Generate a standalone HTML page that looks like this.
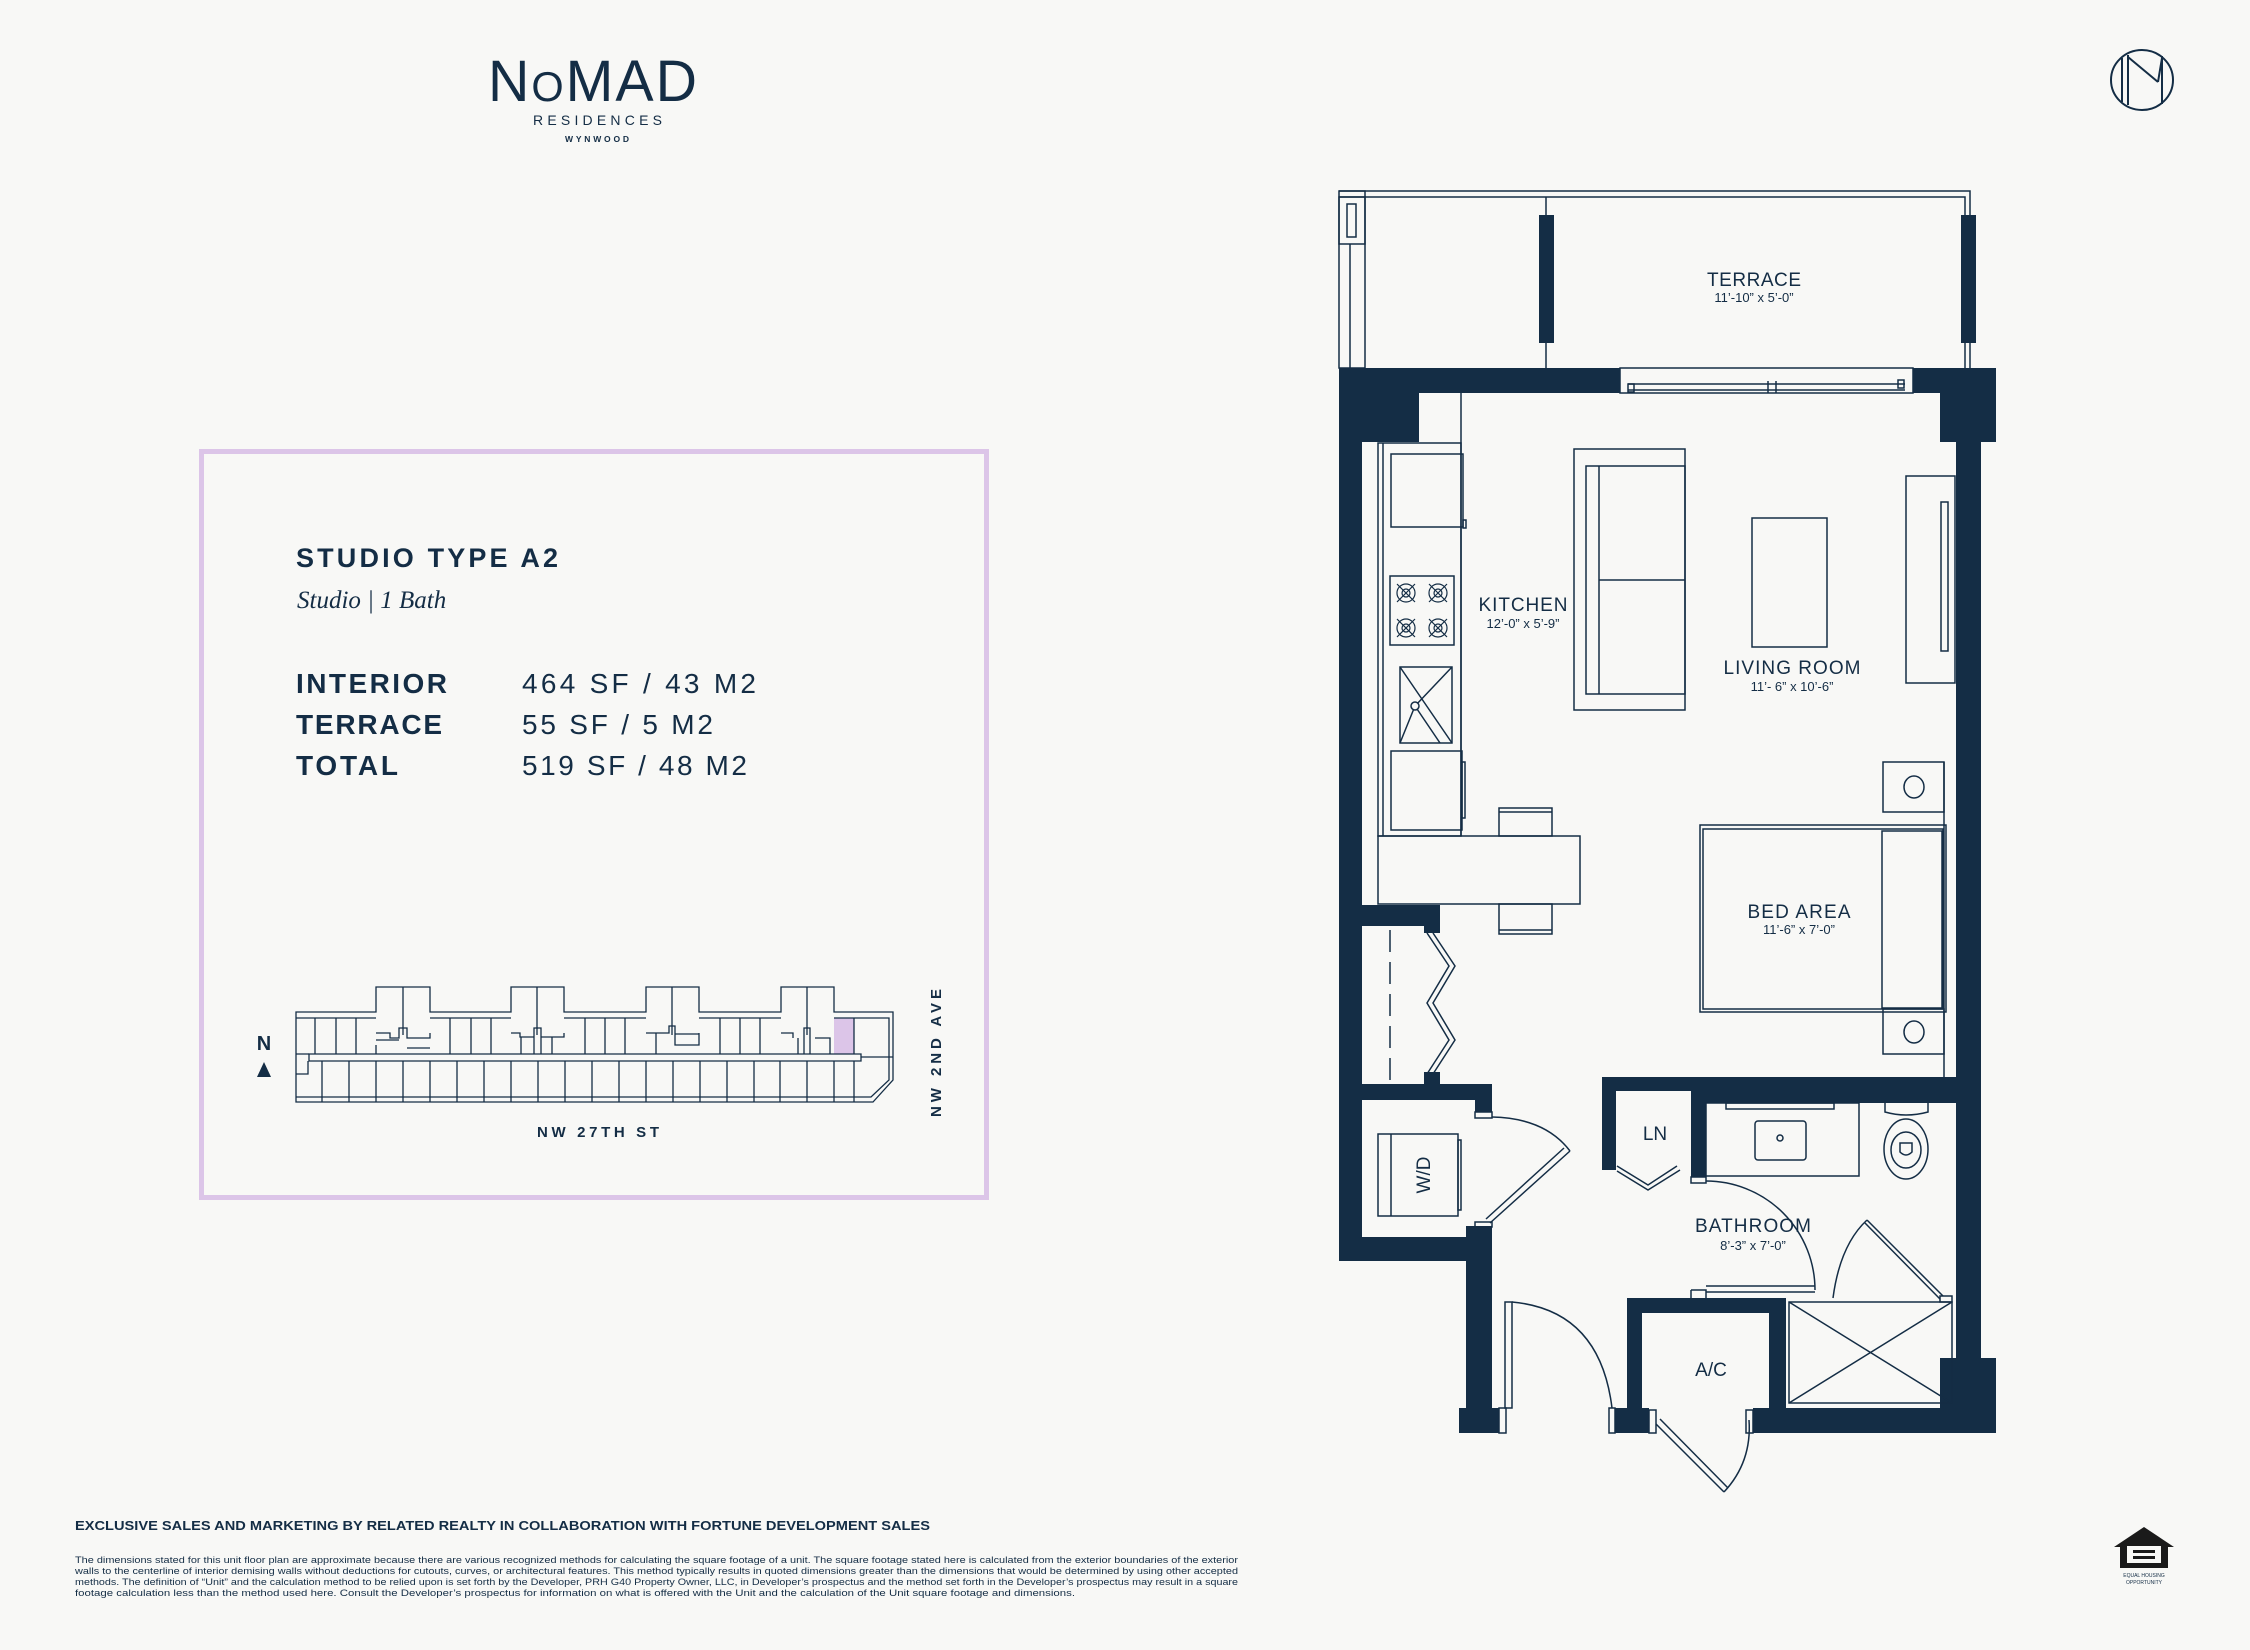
<!DOCTYPE html>
<html><head><meta charset="utf-8"><style>
html,body{margin:0;padding:0;background:#f8f8f6;}
svg{display:block;}
text{font-family:"Liberation Sans",sans-serif;fill:#142d45;}
</style></head><body>
<svg width="2250" height="1650" viewBox="0 0 2250 1650" xmlns="http://www.w3.org/2000/svg">
<rect width="2250" height="1650" fill="#f8f8f6"/>

<!-- Logo -->
<text x="488" y="101" font-size="58" textLength="211" lengthAdjust="spacingAndGlyphs" style="letter-spacing:2px">N<tspan font-size="42">O</tspan>MAD</text>
<text x="533" y="125" font-size="14" textLength="129" lengthAdjust="spacing">RESIDENCES</text>
<text x="565" y="142" font-size="8.5" font-weight="bold" textLength="64" lengthAdjust="spacing">WYNWOOD</text>

<!-- top right M logo -->
<g stroke="#142d45" stroke-width="2" fill="none">
<ellipse cx="2142" cy="80" rx="31" ry="30"/>
<line x1="2122" y1="58" x2="2122" y2="102"/><line x1="2128" y1="55" x2="2128" y2="105"/>
<line x1="2128" y1="57" x2="2158" y2="82"/><line x1="2158" y1="82" x2="2162" y2="58"/>
<line x1="2162" y1="56" x2="2162" y2="104"/>
</g>

<!-- Left info box -->
<rect x="201.5" y="451.5" width="785" height="746" fill="none" stroke="#dcc5e8" stroke-width="5"/>
<text x="296" y="567" font-size="27" font-weight="bold" textLength="262" lengthAdjust="spacing">STUDIO TYPE A2</text>
<text x="297" y="608" font-size="25" font-style="italic" style="font-family:'Liberation Serif',serif">Studio | 1 Bath</text>
<g font-size="28">
<text x="296" y="693" font-weight="bold" textLength="151" lengthAdjust="spacing">INTERIOR</text>
<text x="296" y="734" font-weight="bold" textLength="146" lengthAdjust="spacing">TERRACE</text>
<text x="296" y="775" font-weight="bold" textLength="102" lengthAdjust="spacing">TOTAL</text>
<text x="522" y="693" textLength="234" lengthAdjust="spacing">464 SF / 43 M2</text>
<text x="522" y="734" textLength="191" lengthAdjust="spacing">55 SF / 5 M2</text>
<text x="522" y="775" textLength="225" lengthAdjust="spacing">519 SF / 48 M2</text>
</g>

<!-- site plan -->
<rect x="834" y="1018" width="20" height="36" fill="#dcc5e8"/>
<g stroke="#142d45" stroke-width="1.3" fill="none">
<path d="M296 1012 H376 V987 H430 V1012 H511 V987 H564 V1012 H646 V987 H699 V1012 H781 V987 H834 V1012 H893 V1080 L873 1102 H296 Z"/>
<path d="M296 1018 H376 M430 1018 H511 M564 1018 H646 M699 1018 H781 M834 1018 H889 V1080 L871 1097 H296"/>
<path d="M309 1054 H861 V1061 H309 Z"/>
<path d="M296 1054 H309 M296 1074 H308 V1061"/>
<path d="M403 987 V1035 M537 987 V1035 M672 987 V1035 M807 987 V1035"/>
<path d="M376 1033 H390 V1038 H399 V1028 H407 V1038 H430 V1033 M376 1045 V1054 M376 1040 H399 M407 1048 H430"/>
<path d="M511 1033 H520 V1037 H534 V1028 H541 V1054 M534 1037 V1054 M541 1037 H564 V1033 M521 1037 V1054 M552 1037 V1054"/>
<path d="M646 1033 H669 V1026 H675 V1045 H699 V1033 M675 1034 H699 M656 1033 V1054"/>
<path d="M781 1033 H793 V1038 M804 1038 V1028 H810 V1054 M804 1038 V1054 M798 1038 V1054 M822 1038 H830 V1054 M815 1038 H822"/>
<path d="M854 1018 V1054 M861 1057 H893"/>
<path d="M315 1018 V1054 M336 1018 V1054 M356 1018 V1054 M450 1018 V1054 M471 1018 V1054 M491 1018 V1054 M585 1018 V1054 M605 1018 V1054 M625 1018 V1054 M720 1018 V1054 M740 1018 V1054 M760 1018 V1054"/>
<path d="M322 1061 V1102 M349 1061 V1102 M376 1061 V1102 M403 1061 V1102 M430 1061 V1102 M457 1061 V1102 M484 1061 V1102 M511 1061 V1102 M538 1061 V1102 M565 1061 V1102 M592 1061 V1102 M619 1061 V1102 M646 1061 V1102 M673 1061 V1102 M700 1061 V1102 M727 1061 V1102 M754 1061 V1102 M780 1061 V1102 M807 1061 V1102 M834 1061 V1102 M854 1061 V1102"/>
</g>
<text x="264" y="1050" font-size="20" font-weight="bold" text-anchor="middle">N</text>
<path d="M264 1062 L271 1077 H257 Z" fill="#142d45"/>
<text x="598" y="1137" font-size="15" font-weight="bold" text-anchor="middle" textLength="122" lengthAdjust="spacing">NW 27TH ST</text>
<text transform="translate(941,1053) rotate(-90)" font-size="15" font-weight="bold" text-anchor="middle" textLength="128" lengthAdjust="spacing">NW 2ND AVE</text>

<!-- ===== FLOOR PLAN ===== -->
<g stroke="#142d45" stroke-width="1.5" fill="none">
<path d="M1339 191 H1970 V368 M1339 197 H1965 V368"/>
<rect x="1339" y="191" width="26" height="177"/>
<rect x="1339" y="197" width="26" height="47"/>
<rect x="1347" y="204" width="9" height="33"/>
<line x1="1350" y1="244" x2="1350" y2="368"/>
<line x1="1546" y1="197" x2="1546" y2="368"/>
<rect x="1620" y="368" width="293" height="25"/>
<path d="M1628 384 H1905 M1628 390 H1905 M1768 381 V393 M1776 381 V393"/>
<rect x="1628" y="384" width="6" height="8"/>
<rect x="1898" y="380" width="6" height="8"/>
</g>
<g fill="#142d45">
<rect x="1539" y="215" width="15" height="128"/>
<rect x="1961" y="215" width="15" height="128"/>
<rect x="1339" y="368" width="281" height="25"/>
<rect x="1339" y="393" width="80" height="49"/>
<rect x="1339" y="368" width="23" height="893"/>
<rect x="1913" y="368" width="83" height="25"/>
<rect x="1940" y="393" width="56" height="49"/>
<rect x="1956" y="442" width="25" height="916"/>
<rect x="1940" y="1358" width="56" height="75"/>
<rect x="1753" y="1408" width="243" height="25"/>
<rect x="1339" y="905" width="101" height="21"/>
<rect x="1424" y="905" width="16" height="28"/>
<rect x="1424" y="1072" width="16" height="14"/>
<rect x="1339" y="1084" width="153" height="16"/>
<rect x="1475" y="1084" width="17" height="28"/>
<rect x="1339" y="1237" width="153" height="24"/>
<rect x="1466" y="1226" width="26" height="182"/>
<rect x="1475" y="1226" width="17" height="11"/>
<rect x="1459" y="1408" width="40" height="25"/>
<rect x="1602" y="1077" width="379" height="14"/>
<rect x="1691" y="1077" width="290" height="26"/>
<rect x="1602" y="1077" width="14" height="93"/>
<rect x="1691" y="1077" width="15" height="100"/>
<rect x="1627" y="1298" width="15" height="110"/>
<rect x="1615" y="1408" width="34" height="25"/>
<rect x="1627" y="1298" width="159" height="15"/>
<rect x="1769" y="1298" width="17" height="110"/>
</g>

<g stroke="#142d45" stroke-width="1.5" fill="none">
<line x1="1461" y1="393" x2="1461" y2="836"/>
<rect x="1378" y="443" width="83" height="393"/>
<line x1="1383" y1="443" x2="1383" y2="836"/>
<rect x="1391" y="454" width="72" height="73"/>
<rect x="1463" y="520" width="3" height="8"/>
<rect x="1390" y="576" width="64" height="69"/>
<g stroke-width="1.2">
<circle cx="1406" cy="593" r="9"/><circle cx="1406" cy="593" r="4"/>
<circle cx="1438" cy="593" r="9"/><circle cx="1438" cy="593" r="4"/>
<circle cx="1406" cy="628" r="9"/><circle cx="1406" cy="628" r="4"/>
<circle cx="1438" cy="628" r="9"/><circle cx="1438" cy="628" r="4"/>
<path d="M1397 584 L1415 602 M1415 584 L1397 602 M1429 584 L1447 602 M1447 584 L1429 602 M1397 619 L1415 637 M1415 619 L1397 637 M1429 619 L1447 637 M1447 619 L1429 637"/>
</g>
<rect x="1400" y="667" width="52" height="76"/>
<path d="M1400 667 L1452 743 M1452 667 L1415 706 L1400 743 M1415 706 L1440 743"/>
<circle cx="1415" cy="706" r="4" fill="#f8f8f6"/>
<rect x="1391" y="751" width="71" height="79"/>
<rect x="1462" y="762" width="3" height="56"/>
<rect x="1378" y="836" width="202" height="68"/>
<rect x="1499" y="808" width="53" height="28"/>
<line x1="1499" y1="812" x2="1552" y2="812"/>
<rect x="1499" y="904" width="53" height="30"/>
<line x1="1499" y1="930" x2="1552" y2="930"/>
<rect x="1574" y="449" width="111" height="261"/>
<rect x="1586" y="466" width="99" height="228"/>
<line x1="1599" y1="466" x2="1599" y2="694"/>
<line x1="1599" y1="580" x2="1685" y2="580"/>
<rect x="1752" y="518" width="75" height="129"/>
<rect x="1906" y="476" width="49" height="207"/>
<rect x="1941" y="502" width="7" height="149"/>
<rect x="1883" y="762" width="61" height="50"/>
<ellipse cx="1914" cy="787" rx="10" ry="11"/>
<line x1="1944" y1="762" x2="1944" y2="1077"/>
<rect x="1700" y="825" width="246" height="187"/>
<rect x="1703" y="829" width="240" height="180"/>
<rect x="1882" y="831" width="60" height="177"/>
<rect x="1883" y="1009" width="61" height="45"/>
<ellipse cx="1914" cy="1032" rx="10" ry="11"/>
<line x1="1390" y1="930" x2="1390" y2="1080" stroke-dasharray="22,10"/>
<path d="M1427 933 L1449 966 L1427 1003 L1449 1040 L1427 1074"/>
<path d="M1433 933 L1455 966 L1433 1003 L1455 1040 L1433 1074"/>
<rect x="1378" y="1134" width="80" height="82"/>
<line x1="1391" y1="1134" x2="1391" y2="1216"/>
<rect x="1458" y="1140" width="3" height="70"/>
<rect x="1475" y="1112" width="17" height="6"/>
<rect x="1475" y="1222" width="17" height="5"/>
<path d="M1492 1117 Q1545 1118 1570 1151"/>
<path d="M1570 1151 L1490 1223 M1564 1148 L1486 1219"/>
<path d="M1617 1166 L1648 1185 L1677 1166 M1617 1171 L1648 1190 L1680 1170"/>
<rect x="1706" y="1103" width="153" height="73"/>
<rect x="1726" y="1103" width="108" height="6"/>
<rect x="1755" y="1121" width="51" height="39" rx="3"/>
<circle cx="1780" cy="1138" r="3"/>
<path d="M1885 1103 V1112 Q1906 1118 1928 1112 V1103"/>
<ellipse cx="1906" cy="1149" rx="22" ry="30"/>
<ellipse cx="1906" cy="1150" rx="15" ry="18"/>
<path d="M1900 1143 H1912 V1152 Q1906 1158 1900 1152 Z"/>
<rect x="1691" y="1177" width="15" height="6"/>
<path d="M1706 1181 A109 109 0 0 1 1815 1290"/>
<path d="M1706 1286 H1815 M1706 1292 H1815 M1691 1290 V1298 M1691 1290 H1706 V1298"/>
<rect x="1789" y="1302" width="163" height="101"/>
<path d="M1789 1302 L1952 1403 M1952 1302 L1789 1403"/>
<path d="M1867 1220 L1943 1296 M1865 1223 L1940 1299"/>
<path d="M1833 1298 Q1840 1245 1867 1220"/>
<rect x="1940" y="1296" width="12" height="6"/>
<rect x="1505" y="1302" width="7" height="106"/>
<rect x="1499" y="1408" width="7" height="25"/>
<path d="M1512 1302 Q1600 1310 1612 1408"/>
<rect x="1609" y="1408" width="6" height="25"/>
<rect x="1649" y="1410" width="7" height="23"/>
<rect x="1746" y="1410" width="7" height="23"/>
<path d="M1656 1424 L1724 1492 M1660 1419 L1728 1488"/>
<path d="M1724 1492 Q1752 1462 1749 1420"/>
</g>

<g text-anchor="middle">
<text x="1754" y="286" font-size="19" textLength="94" lengthAdjust="spacing">TERRACE</text>
<text x="1754" y="302" font-size="13">11’-10” x 5’-0”</text>
<text x="1523" y="611" font-size="19" textLength="89" lengthAdjust="spacing">KITCHEN</text>
<text x="1523" y="628" font-size="13">12’-0” x 5’-9”</text>
<text x="1792" y="674" font-size="19" textLength="137" lengthAdjust="spacing">LIVING ROOM</text>
<text x="1792" y="691" font-size="13">11’- 6” x 10’-6”</text>
<text x="1799" y="918" font-size="19" textLength="103" lengthAdjust="spacing">BED AREA</text>
<text x="1799" y="934" font-size="13">11’-6” x 7’-0”</text>
<text x="1655" y="1140" font-size="19">LN</text>
<text x="1753" y="1232" font-size="19" textLength="116" lengthAdjust="spacing">BATHROOM</text>
<text x="1753" y="1250" font-size="13">8’-3” x 7’-0”</text>
<text x="1711" y="1376" font-size="19">A/C</text>
<text transform="translate(1430,1175) rotate(-90)" font-size="19">W/D</text>
</g>

<text x="75" y="1530" font-size="13" font-weight="bold" textLength="855" lengthAdjust="spacingAndGlyphs">EXCLUSIVE SALES AND MARKETING BY RELATED REALTY IN COLLABORATION WITH FORTUNE DEVELOPMENT SALES</text>
<g font-size="9">
<text x="75" y="1563" textLength="1163" lengthAdjust="spacingAndGlyphs">The dimensions stated for this unit floor plan are approximate because there are various recognized methods for calculating the square footage of a unit.  The square footage stated here is calculated from the exterior boundaries of the exterior</text>
<text x="75" y="1574" textLength="1163" lengthAdjust="spacingAndGlyphs">walls to the centerline of interior demising walls without deductions for cutouts, curves, or architectural features. This method typically results in quoted dimensions greater than the dimensions that would be determined by using other accepted</text>
<text x="75" y="1585" textLength="1163" lengthAdjust="spacingAndGlyphs">methods. The definition of “Unit” and the calculation method to be relied upon is set forth by the Developer, PRH G40 Property Owner, LLC, in Developer’s prospectus and the method set forth in the Developer’s prospectus may result in a square</text>
<text x="75" y="1596" textLength="1000" lengthAdjust="spacingAndGlyphs">footage calculation less than the method used here. Consult the Developer’s prospectus for information on what is offered with the Unit and the calculation of the Unit square footage and dimensions.</text>
</g>

<path d="M2114 1547 L2144 1527 L2174 1547 H2168 V1568 H2120 V1547 Z" fill="#1a1a1a"/>
<rect x="2127" y="1546" width="34" height="17" fill="#f8f8f6"/>
<rect x="2133" y="1550" width="22" height="3" fill="#1a1a1a"/>
<rect x="2133" y="1556" width="22" height="3" fill="#1a1a1a"/>
<text x="2144" y="1577" font-size="5" text-anchor="middle" fill="#1a1a1a">EQUAL HOUSING</text>
<text x="2144" y="1584" font-size="5" text-anchor="middle" fill="#1a1a1a">OPPORTUNITY</text>
</svg>
</body></html>
